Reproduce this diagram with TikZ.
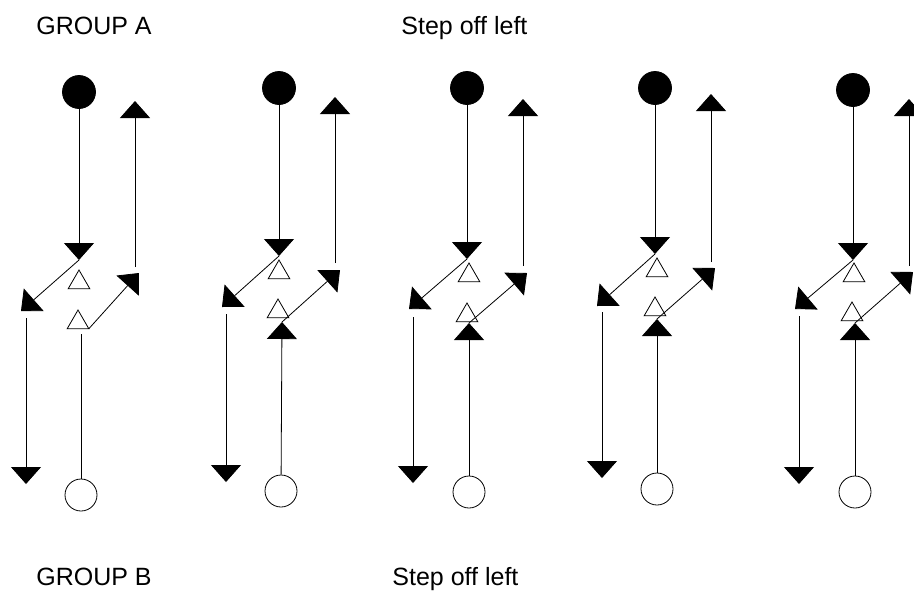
\documentclass[tikz,border=0pt]{standalone}
\usepackage{fontspec}
\setmainfont{Liberation Sans}
\usetikzlibrary{
  arrows.meta,
  shapes.geometric,
  positioning
}

\begin{document}
\begin{tikzpicture}[
      x=1pt,y=-1pt,
      dancer/.style={
         circle,
         minimum size=33pt,
         inner sep=0pt,
         draw=black,
         fill=black
      },
      partner/.style={
         circle,
         minimum size=32pt,
         inner sep=0pt,
         draw=black,
         fill=white
      },
      footmark/.style={
         regular polygon,
         regular polygon sides=3,
         minimum size=25pt,
         inner sep=0pt,
         outer sep=0pt,
         draw=black,
         anchor=corner 1
      },
      caption/.style={
         anchor=base west,
         inner sep=0pt,
         font=\fontsize{25}{30}\selectfont
      },
      point/.style={coordinate},
      tip/.style={-{Triangle[width=30pt,length=17pt]}},
      line width=0.8pt
    ]
    \clip (0,0) rectangle (914,590);
    \node (ga) [caption] at (36,34) {GROUP A};
    \node (sa) [caption] at (401,34) {Step off left};
    \node (gb) [caption] at (36,585) {GROUP B};
    \node (sb) [caption] at (392,585) {Step off left};
    % first figure
    \node (d1) [dancer] at (79,92) {};
    \node (p1) [partner] at (81,495) {};
    \node (fa1) [footmark] at (79,270) {};
    \node (fb1) [footmark] at (78,310) {};
    \node (s1) [point] at (79,260) {};
    \node (l1) [point] at (21,311) {};
    \node (lt1) [point] at (26,318) {};
    \node (lb1) [point] at (26,484) {};
    \node (u1) [point] at (81,334) {};
    \node (r1) [point] at (139,273) {};
    \node (rb1) [point] at (135,267) {};
    \node (rt1) [point] at (135,101) {};
    \draw[tip] (d1) -- (s1);
    \draw[tip] (s1) -- (l1);
    \draw[tip] (lt1) -- (lb1);
    \draw (p1) -- (u1);
    \draw[tip] (fb1.corner 3) -- (r1);
    \draw[tip] (rb1) -- (rt1);
    % second figure
    \node (d2) [dancer] at (279,88) {};
    \node (p2) [partner] at (281,491) {};
    \node (fa2) [footmark] at (279,260) {};
    \node (fb2) [footmark] at (278,299) {};
    \node (s2) [point] at (279,256) {};
    \node (l2) [point] at (222,307) {};
    \node (lt2) [point] at (226,314) {};
    \node (lb2) [point] at (226,482) {};
    \node (u2) [point] at (282,322) {};
    \node (r2) [point] at (340,270) {};
    \node (rb2) [point] at (335,263) {};
    \node (rt2) [point] at (335,97) {};
    \draw[tip] (d2) -- (s2);
    \draw[tip] (s2) -- (l2);
    \draw[tip] (lt2) -- (lb2);
    \draw[tip] (p2) -- (u2);
    \draw[tip] (u2) -- (r2);
    \draw[tip] (rb2) -- (rt2);
    % third figure
    \node (d3) [dancer] at (467,88) {};
    \node (p3) [partner] at (469,492) {};
    \node (fa3) [footmark] at (469,263) {};
    \node (fb3) [footmark] at (467,303) {};
    \node (s3) [point] at (467,259) {};
    \node (l3) [point] at (409,309) {};
    \node (lt3) [point] at (413,317) {};
    \node (lb3) [point] at (413,483) {};
    \node (u3) [point] at (469,323) {};
    \node (r3) [point] at (527,273) {};
    \node (rb3) [point] at (523,266) {};
    \node (rt3) [point] at (523,99) {};
    \draw[tip] (d3) -- (s3);
    \draw[tip] (s3) -- (l3);
    \draw[tip] (lt3) -- (lb3);
    \draw[tip] (p3) -- (u3);
    \draw[tip] (u3) -- (r3);
    \draw[tip] (rb3) -- (rt3);
    % fourth figure
    \node (d4) [dancer] at (655,88) {};
    \node (p4) [partner] at (657,489) {};
    \node (fa4) [footmark] at (657,258) {};
    \node (fb4) [footmark] at (655,297) {};
    \node (s4) [point] at (655,254) {};
    \node (l4) [point] at (597,306) {};
    \node (lt4) [point] at (602,312) {};
    \node (lb4) [point] at (602,478) {};
    \node (u4) [point] at (657,319) {};
    \node (r4) [point] at (715,268) {};
    \node (rb4) [point] at (711,262) {};
    \node (rt4) [point] at (711,94) {};
    \draw[tip] (d4) -- (s4);
    \draw[tip] (s4) -- (l4);
    \draw[tip] (lt4) -- (lb4);
    \draw[tip] (p4) -- (u4);
    \draw[tip] (u4) -- (r4);
    \draw[tip] (rb4) -- (rt4);
    % fifth figure
    \node (d5) [dancer] at (853,90) {};
    \node (p5) [partner] at (855,492) {};
    \node (fa5) [footmark] at (854,263) {};
    \node (fb5) [footmark] at (852,302) {};
    \node (s5) [point] at (853,260) {};
    \node (l5) [point] at (795,309) {};
    \node (lt5) [point] at (799,316) {};
    \node (lb5) [point] at (799,484) {};
    \node (u5) [point] at (855,323) {};
    \node (r5) [point] at (913,272) {};
    \node (rb5) [point] at (909,266) {};
    \node (rt5) [point] at (909,99) {};
    \draw[tip] (d5) -- (s5);
    \draw[tip] (s5) -- (l5);
    \draw[tip] (lt5) -- (lb5);
    \draw[tip] (p5) -- (u5);
    \draw[tip] (u5) -- (r5);
    \draw[tip] (rb5) -- (rt5);
\end{tikzpicture}
\end{document}
